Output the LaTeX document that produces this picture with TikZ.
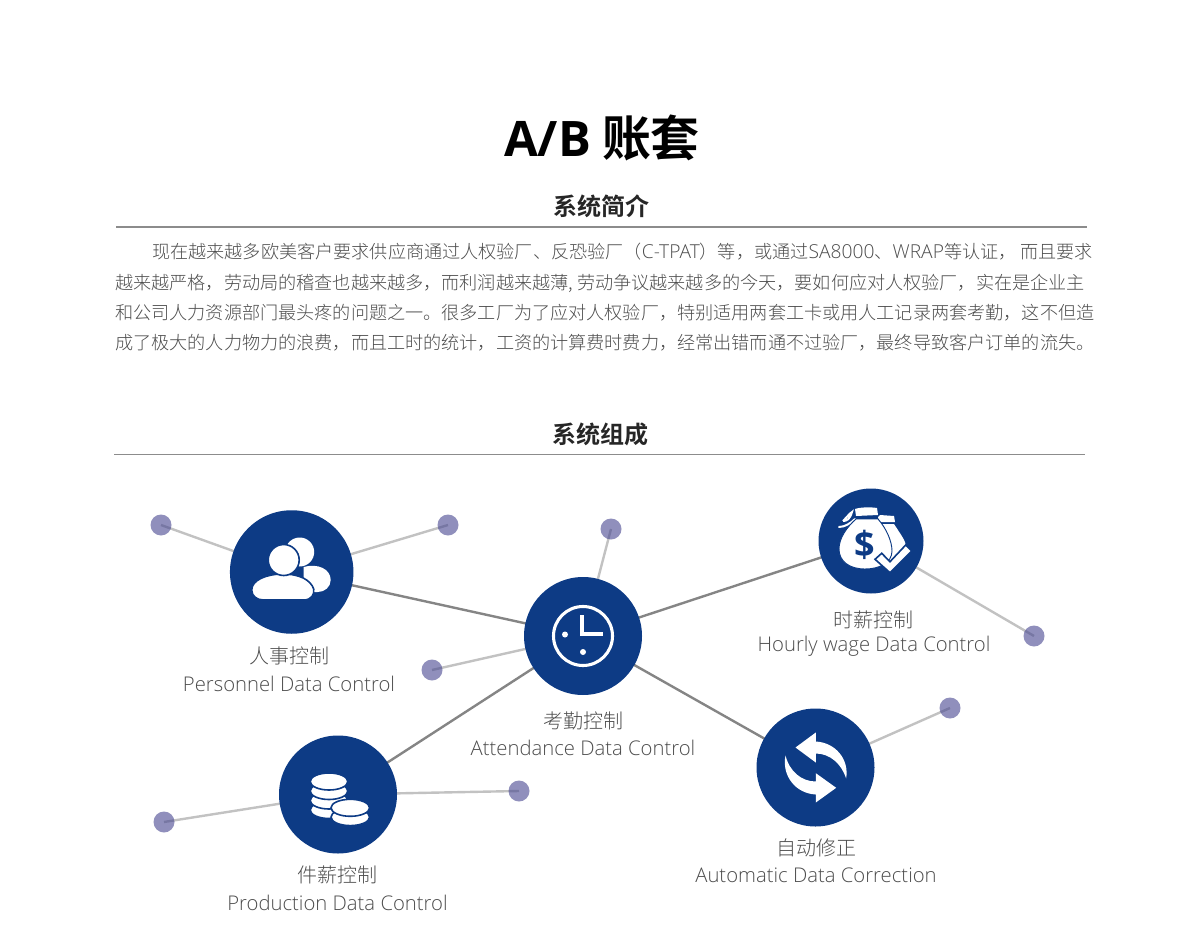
\documentclass[tikz,border=0pt]{standalone}
\usepackage{fontspec}
\usetikzlibrary{backgrounds}
\setmainfont{Noto Sans CJK SC Light}
\newfontfamily\cjkbold{Noto Sans CJK SC Bold}
\newfontfamily\latlight{Open Sans Light}
\newfontfamily\latbody[Scale=1.06]{Open Sans Light}
\newfontfamily\latbold{Open Sans Bold}
\definecolor{hubblue}{HTML}{0D3B85}
\definecolor{dotpurple}{HTML}{46458F}
\definecolor{bodygray}{HTML}{4D4D4D}

\tikzset{
  hubnode/.style={circle, fill=hubblue, inner sep=0pt, minimum size=#1*0.75pt},
  leafdot/.style={circle, fill=dotpurple, fill opacity=0.6, inner sep=0pt, minimum size=15.75pt},
  mainlink/.style={draw=black!48, line width=1.8pt},
  sidelink/.style={draw=black!24, line width=1.8pt},
  sectitle/.style={font=\cjkbold\fontsize{18}{20}\selectfont, text=black!85},
  secrule/.style={draw=black!45, line width=0.8pt},
  bodyline/.style={anchor=west, text=bodygray, inner sep=0pt, font=\fontsize{13.6}{16}\selectfont},
  cnlabel/.style={text=bodygray, font=\fontsize{15}{18}\selectfont},
  enlabel/.style={text=bodygray, font=\latlight\fontsize{15.2}{18}\selectfont},
  iconfill/.style={fill=white, draw=hubblue, line width=1.2pt},
}

\begin{document}
\begin{tikzpicture}[x=0.75pt, y=-0.75pt]
    \useasboundingbox (0,0) rectangle (1200,931);

    % heading and text
    \node (title) at (602,138) {\fontsize{36.7}{40}\selectfont\cjkbold{\latbold A/B} 账套};
    \node[sectitle] (introTitle) at (601,206) {系统简介};
    \coordinate (introL) at (116,227);
    \coordinate (introR) at (1087,227);
    \draw[secrule] (introL) -- (introR);
    \node[bodyline] (bodyA) at (152,252) {现在越来越多欧美客户要求供应商通过人权验厂、反恐验厂（{\latbody C-TPAT}）等，或通过{\latbody SA8000}、{\latbody WRAP}等认证， 而且要求};
    \node[bodyline] (bodyB) at (115,283) {越来越严格，劳动局的稽查也越来越多，而利润越来越薄, 劳动争议越来越多的今天，要如何应对人权验厂，实在是企业主};
    \node[bodyline] (bodyC) at (115,313) {和公司人力资源部门最头疼的问题之一。很多工厂为了应对人权验厂，特别适用两套工卡或用人工记录两套考勤，这不但造};
    \node[bodyline] (bodyD) at (115,343) {成了极大的人力物力的浪费，而且工时的统计，工资的计算费时费力，经常出错而通不过验厂，最终导致客户订单的流失。};
    \node[sectitle] (partsTitle) at (600,434) {系统组成};
    \coordinate (partsL) at (114,454.5);
    \coordinate (partsR) at (1085,454.5);
    \draw[secrule] (partsL) -- (partsR);

    % hubs
    \node[hubnode=123.5] (personnel) at (291.7,572) {};
    \node[hubnode=118] (attendance) at (583,636) {};
    \node[hubnode=105] (hourly) at (871,541) {};
    \node[hubnode=118] (production) at (338,794.5) {};
    \node[hubnode=118] (correction) at (815.5,767.5) {};

    % small dots
    \node[leafdot] (dotA) at (161,525) {};
    \node[leafdot] (dotB) at (448,525) {};
    \node[leafdot] (dotC) at (611,529) {};
    \node[leafdot] (dotD) at (432,670) {};
    \node[leafdot] (dotE) at (1034,636) {};
    \node[leafdot] (dotF) at (950,708) {};
    \node[leafdot] (dotG) at (519,791) {};
    \node[leafdot] (dotH) at (164,822) {};

    % connectors
    \begin{scope}[on background layer]
        \foreach \a/\b in {personnel/attendance, attendance/hourly, attendance/production, attendance/correction}
            \draw[mainlink] (\a.center) -- (\b.center);
        \foreach \a/\b in {dotA/personnel, dotB/personnel, dotC/attendance, dotD/attendance, dotE/hourly, dotF/correction, dotG/production, dotH/production}
            \draw[sidelink] (\a.center) -- (\b.center);
    \end{scope}

    % labels
    \node[cnlabel] (personnelCn) at (289,656) {人事控制};
    \node[enlabel] (personnelEn) at (289,683.5) {Personnel Data Control};
    \node[cnlabel] (attendanceCn) at (583,721) {考勤控制};
    \node[enlabel] (attendanceEn) at (583,747.5) {Attendance Data Control};
    \node[cnlabel] (hourlyCn) at (873.5,620) {时薪控制};
    \node[enlabel] (hourlyEn) at (874,646.5) {Hourly wage Data Control};
    \node[cnlabel] (productionCn) at (337.5,875) {件薪控制};
    \node[enlabel] (productionEn) at (337.5,902.5) {Production Data Control};
    \node[cnlabel] (correctionCn) at (816,848) {自动修正};
    \node[enlabel] (correctionEn) at (816,875.5) {Automatic Data Correction};

    % people icon
    \begin{scope}[shift={(personnel.center)}]
        \fill[white] (8,-20) circle (14.5);
        \fill[white] (12,-5) .. controls (26,-9) and (39,-3) .. (39,8) .. controls (39,15) and (33,20) .. (26,20) -- (12,20) -- cycle;
        \draw[iconfill] (-28,28) -- (12,28) .. controls (20,28) and (23,22) .. (22,17) .. controls (19,8) and (8,2) .. (-9,2) .. controls (-25,2) and (-40,8) .. (-40,18) .. controls (-40,24) and (-35,28) .. (-28,28) -- cycle;
        \draw[iconfill] (-8,-12) circle (15.5);
    \end{scope}

    % clock icon
    \begin{scope}[shift={(attendance.center)}]
        \draw[white, line width=2.3pt] (0,0) circle (29.5);
        \draw[white, line width=2.3pt] (-1,-21) -- (-1,-2) -- (20,-2);
        \fill[white] (-18,-1.5) circle (3);
        \fill[white] (0,16) circle (3);
    \end{scope}

    % money icon
    \begin{scope}[shift={(hourly.center)}]
        \fill[white] (7,-24) -- (9,-26) -- (23,-25) -- (24,-19) -- (8,-19) -- cycle;
        \fill[white] (8,-17) -- (23,-17) .. controls (30,-6) and (35,0) .. (35,6) -- (20,24) -- (8,24) -- cycle;
        \fill[white] (-16,-32) .. controls (-10,-34) and (0,-34) .. (6,-33) -- (7,-26) -- (-15,-25) -- cycle;
        \draw[white, line width=1.5pt, line cap=round] (-32,-14) .. controls (-26,-14) and (-20,-18) .. (-16,-22);
        \draw[white, line width=1.5pt] (-28,-20) .. controls (-24,-24) and (-21,-28) .. (-19,-29) .. controls (-21,-22) and (-24,-20) .. (-28,-20);
        \draw[fill=white, draw=hubblue, line width=0.7pt] (-15,-22) -- (7,-22) .. controls (15,-13) and (21,0) .. (21,10) .. controls (21,22) and (8,28) .. (-6,28) .. controls (-22,28) and (-32,20) .. (-32,8) .. controls (-32,-3) and (-24,-14) .. (-15,-22) -- cycle;
        \node[text=hubblue, inner sep=0pt, font=\latbold\fontsize{27}{30}\selectfont] (dollar) at (-6,4) {\$};
        \draw[iconfill] (4,18.3) -- (10.7,12.3) -- (19,20.7) -- (34.7,4) -- (40.7,10) -- (19,31.7) -- cycle;
    \end{scope}

    % coins icon
    \begin{scope}[shift={(production.center)}]
        \foreach \yy in {15.5,6,-3.5,-13}
            \draw[iconfill] (-9,\yy) ellipse (18.8 and 8.5);
        \draw[iconfill] (12.3,22.6) ellipse (19.3 and 8.5);
        \draw[iconfill] (12.3,13.3) ellipse (19.3 and 8.5);
    \end{scope}

    % arrows icon
    \begin{scope}[shift={(correction.center)}]
        \fill[white] (-20,-20) -- (0.3,-35) -- (0.3,-26) .. controls (20,-25) and (34,-8) .. (30.6,11) .. controls (26,-4) and (14,-14) .. (0.3,-14) -- (0.3,-5) -- cycle;
        \fill[white] (20.7,20.3) -- (0.3,5.7) -- (0.3,14) .. controls (-14,14) and (-26,4) .. (-30,-12) .. controls (-34,8) and (-20,26) .. (0.3,27) -- (0.3,35) -- cycle;
    \end{scope}
\end{tikzpicture}
\end{document}
